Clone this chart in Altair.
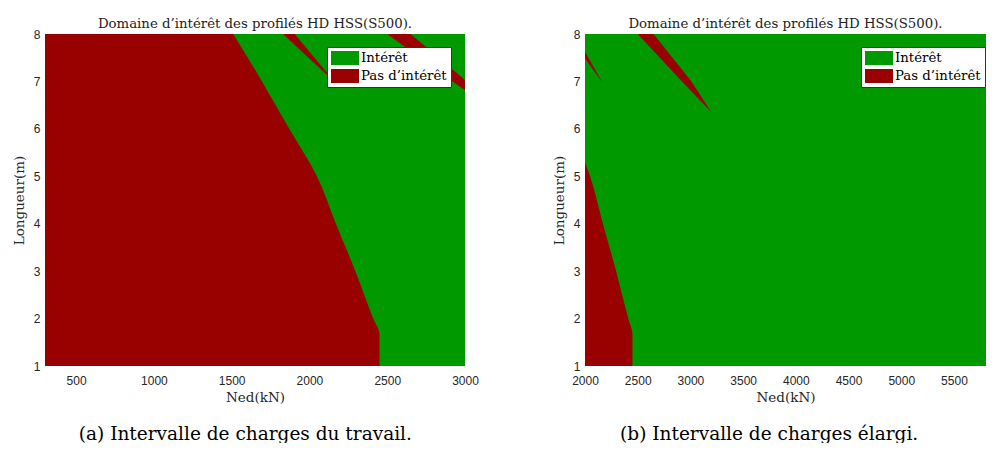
import altair as alt
import pandas as pd

GREEN = "#009900"
RED = "#990000"

CATS = ["Intérêt", "Pas d’intérêt"]

Y_DOMAIN = [1, 8]
Y_TICKS = [1, 2, 3, 4, 5, 6, 7, 8]

A_XDOMAIN = [300, 3000]
A_XTICKS = [500, 1000, 1500, 2000, 2500, 3000]
B_XDOMAIN = [2000, 5804]
B_XTICKS = [2000, 2500, 3000, 3500, 4000, 4500, 5000, 5500]

# Main "no interest" region: boundary (x as a function of y), region lies left of it
MAIN_Y = [1, 1.67, 2, 3, 4, 5, 6, 7, 8]
MAIN_X = [2450, 2450, 2410, 2295, 2170, 2048, 1870, 1695, 1510]

# Narrow diagonal strips of "no interest"
STRIP1_Y = [6.98, 8]
STRIP1_XL = [2165, 1830]
STRIP1_XR = [2165, 1905]

STRIP2_Y = [6.36, 7.0, 8]
STRIP2_XL = [3195, 2920, 2500]
STRIP2_XR = [3195, 3010, 2650]

TITLE = "Domaine d’intérêt des profilés HD HSS(S500)."
CAP_A = "(a) Intervalle de charges du travail."
CAP_B = "(b) Intervalle de charges élargi."

main_df = pd.DataFrame({"y": MAIN_Y, "xl": [A_XDOMAIN[0]] * len(MAIN_Y), "xr": MAIN_X,
                        "etat": [CATS[1]] * len(MAIN_Y)})
rows = []
for y, xl, xr in zip(STRIP1_Y, STRIP1_XL, STRIP1_XR):
    rows.append({"region": "s1", "y": y, "xl": xl, "xr": xr, "etat": CATS[1]})
for y, xl, xr in zip(STRIP2_Y, STRIP2_XL, STRIP2_XR):
    rows.append({"region": "s2", "y": y, "xl": xl, "xr": xr, "etat": CATS[1]})
strip_df = pd.DataFrame(rows)

SERIF = "DejaVu Serif"
SANS = "Liberation Sans"

color_scale = alt.Scale(domain=CATS, range=[GREEN, RED])


def make_legend(lx):
    return alt.Legend(
        title=None, orient="none", legendX=lx, legendY=13, direction="vertical",
        fillColor="white", strokeColor="#333333", padding=4,
        symbolType="M-1,-1L3,-1L3,1L-1,1Z", symbolSize=196, symbolStrokeWidth=0,
        symbolOpacity=1, labelFont=SERIF, labelFontSize=13.3, labelColor="#000000",
        labelOffset=16, rowPadding=4,
    )


def panel(xdomain, xticks, width, lx):
    legend = make_legend(lx)
    xs = alt.Scale(domain=xdomain, nice=False, zero=False)
    ys = alt.Scale(domain=Y_DOMAIN, nice=False, zero=False)
    xaxis = alt.Axis(values=xticks, title="Ned(kN)", format="d")
    yaxis = alt.Axis(values=Y_TICKS, title="Longueur(m)")
    bg_df = pd.DataFrame([{"x": xdomain[0], "x2": xdomain[1], "y": Y_DOMAIN[0],
                           "y2": Y_DOMAIN[1], "etat": CATS[0]}])
    bg = alt.Chart(bg_df).mark_rect().encode(
        x=alt.X("x:Q", scale=xs, axis=xaxis),
        x2="x2:Q",
        y=alt.Y("y:Q", scale=ys, axis=yaxis),
        y2="y2:Q",
        color=alt.Color("etat:N", scale=color_scale, legend=legend),
    )
    main = alt.Chart(main_df).mark_area(orient="horizontal", clip=True, opacity=1,
                                        interpolate="monotone").encode(
        y=alt.Y("y:Q", scale=ys),
        x=alt.X("xl:Q", scale=xs),
        x2="xr:Q",
        color=alt.Color("etat:N", scale=color_scale, legend=legend),
    )
    strips = alt.Chart(strip_df).mark_area(orient="horizontal", clip=True, opacity=1).encode(
        y=alt.Y("y:Q", scale=ys),
        x=alt.X("xl:Q", scale=xs),
        x2="xr:Q",
        detail="region:N",
        color=alt.Color("etat:N", scale=color_scale, legend=legend),
    )
    p = alt.layer(bg, main, strips).properties(
        width=width, height=332,
        title=alt.TitleParams(TITLE, font=SERIF, fontSize=13.3, fontWeight="normal",
                              color="#222222", offset=-2.5, frame="group"),
    )
    return p


pa = panel(A_XDOMAIN, A_XTICKS, 420, 282)
pb = panel(B_XDOMAIN, B_XTICKS, 401, 276)


def wrap(p, cap):
    return alt.vconcat(p).resolve_scale(color="independent").properties(
        title=alt.TitleParams(cap, orient="bottom", font=SERIF, fontSize=18.5,
                              fontWeight="normal", color="#000000", offset=21,
                              anchor="middle"))


chart = alt.hconcat(wrap(pa, CAP_A), wrap(pb, CAP_B), spacing=73).resolve_scale(
    color="independent"
).properties(
    padding={"left": 4, "top": 9, "right": 0, "bottom": 0}
).configure_view(stroke=None).configure_axis(
    domain=False, ticks=False, grid=False, labelFlush=False,
    labelFont=SANS, labelFontSize=12, labelColor="#262626", labelPadding=9,
    titleFont=SERIF, titleFontSize=13.5, titleColor="#262626", titleFontWeight="normal",
    titlePadding=4,
).configure_axisY(titlePadding=7, labelPadding=5)

chart.save("out.html", embed_options={"renderer": "svg", "actions": False})
